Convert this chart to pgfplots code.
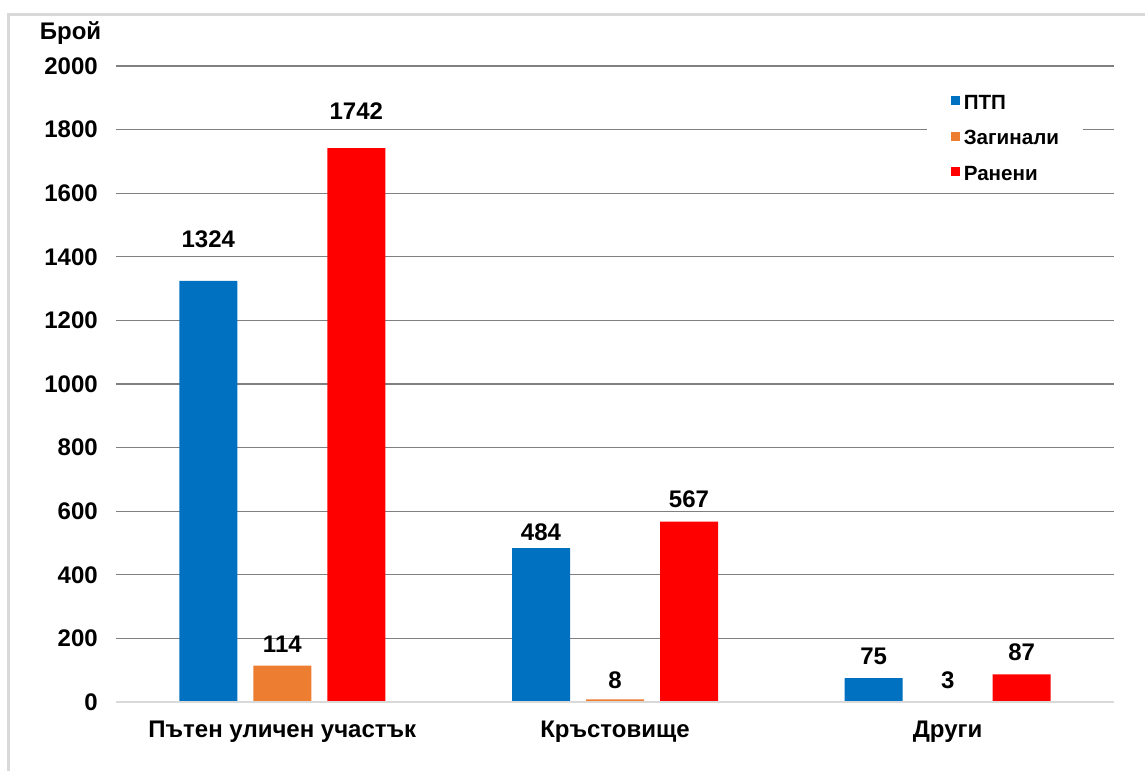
\documentclass[border=0pt]{standalone}
\usepackage{fontspec}
\setmainfont{Liberation Sans}
\usepackage{pgfplots}
\pgfplotsset{compat=1.18}
\usepackage{pgfplotstable}

\definecolor{ptpblue}{HTML}{0070C0}
\definecolor{deadorange}{HTML}{ED7D31}
\definecolor{injred}{HTML}{FF0000}
\definecolor{gridgray}{HTML}{808080}
\definecolor{basegray}{HTML}{D9D9D9}

% x: category index, y: count, off: lift of the value label (pt)
\pgfplotstableread{
x y off
0 1324 21
1 484 8
2 75 11
}\ptp
\pgfplotstableread{
x y off
0 114 11
1 8 9.5
2 3 10.5
}\dead
\pgfplotstableread{
x y off
0 1742 18.25
1 567 11
2 87 11
}\inj

\begin{document}
\begin{tikzpicture}
\useasboundingbox (0,0) rectangle (572.5pt,385.5pt);
\draw[basegray, line width=1.5pt] (4.25pt,0) -- (4.25pt,378.25pt) -- (572.5pt,378.25pt);
\node[font=\bfseries\fontsize{12}{14}\selectfont] at (35.25pt,369pt) {Брой};
\begin{axis}[
  at={(58pt,34.5pt)}, anchor=south west,
  scale only axis, width=499pt, height=318pt,
  ybar=8pt, bar width=29pt,
  xmin=-0.5, xmax=2.5, ymin=0, ymax=2000,
  xtick={0,1,2},
  xticklabels={Пътен уличен участък, Кръстовище, Други},
  ytick={0,200,...,2000},
  major tick length=0pt,
  axis line style={draw=none},
  ymajorgrids, grid style={gridgray, line width=0.6pt},
  tick label style={font=\bfseries\fontsize{12}{14}\selectfont},
  /pgf/number format/assume math mode=true,
  /pgf/number format/1000 sep={},
  yticklabel style={xshift=-5.6pt},
  xticklabel style={yshift=-5.8pt},
  nodes near coords,
  visualization depends on={\thisrow{off} \as \off},
  every node near coord/.append style={anchor=center, yshift=\off*1pt, text=black,
    font=\bfseries\fontsize{12}{14}\selectfont,
    /pgf/number format/assume math mode=true},
  legend style={at={(0.812,0.969)}, anchor=north west, draw=none, fill=white,
    inner xsep=12pt, inner ysep=4pt,
    font=\bfseries\fontsize{10.3}{12}\selectfont,
    row sep=10.35pt, column sep=2pt,
    nodes={inner sep=0pt, text height=7.5pt, text depth=0pt}},
  legend cell align=left,
  legend image code/.code={\fill[#1] (0pt,-1.65pt) rectangle (4.5pt,2.85pt);},
]
\addplot[draw=none, fill=ptpblue] table[x=x, y=y] {\ptp};
\addplot[draw=none, fill=deadorange] table[x=x, y=y] {\dead};
\addplot[draw=none, fill=injred] table[x=x, y=y] {\inj};
\legend{ПТП, Загинали, Ранени}
\draw[basegray, line width=0.85pt] (axis cs:-0.5,0) -- (axis cs:2.5,0);
\end{axis}
\end{tikzpicture}
\end{document}
